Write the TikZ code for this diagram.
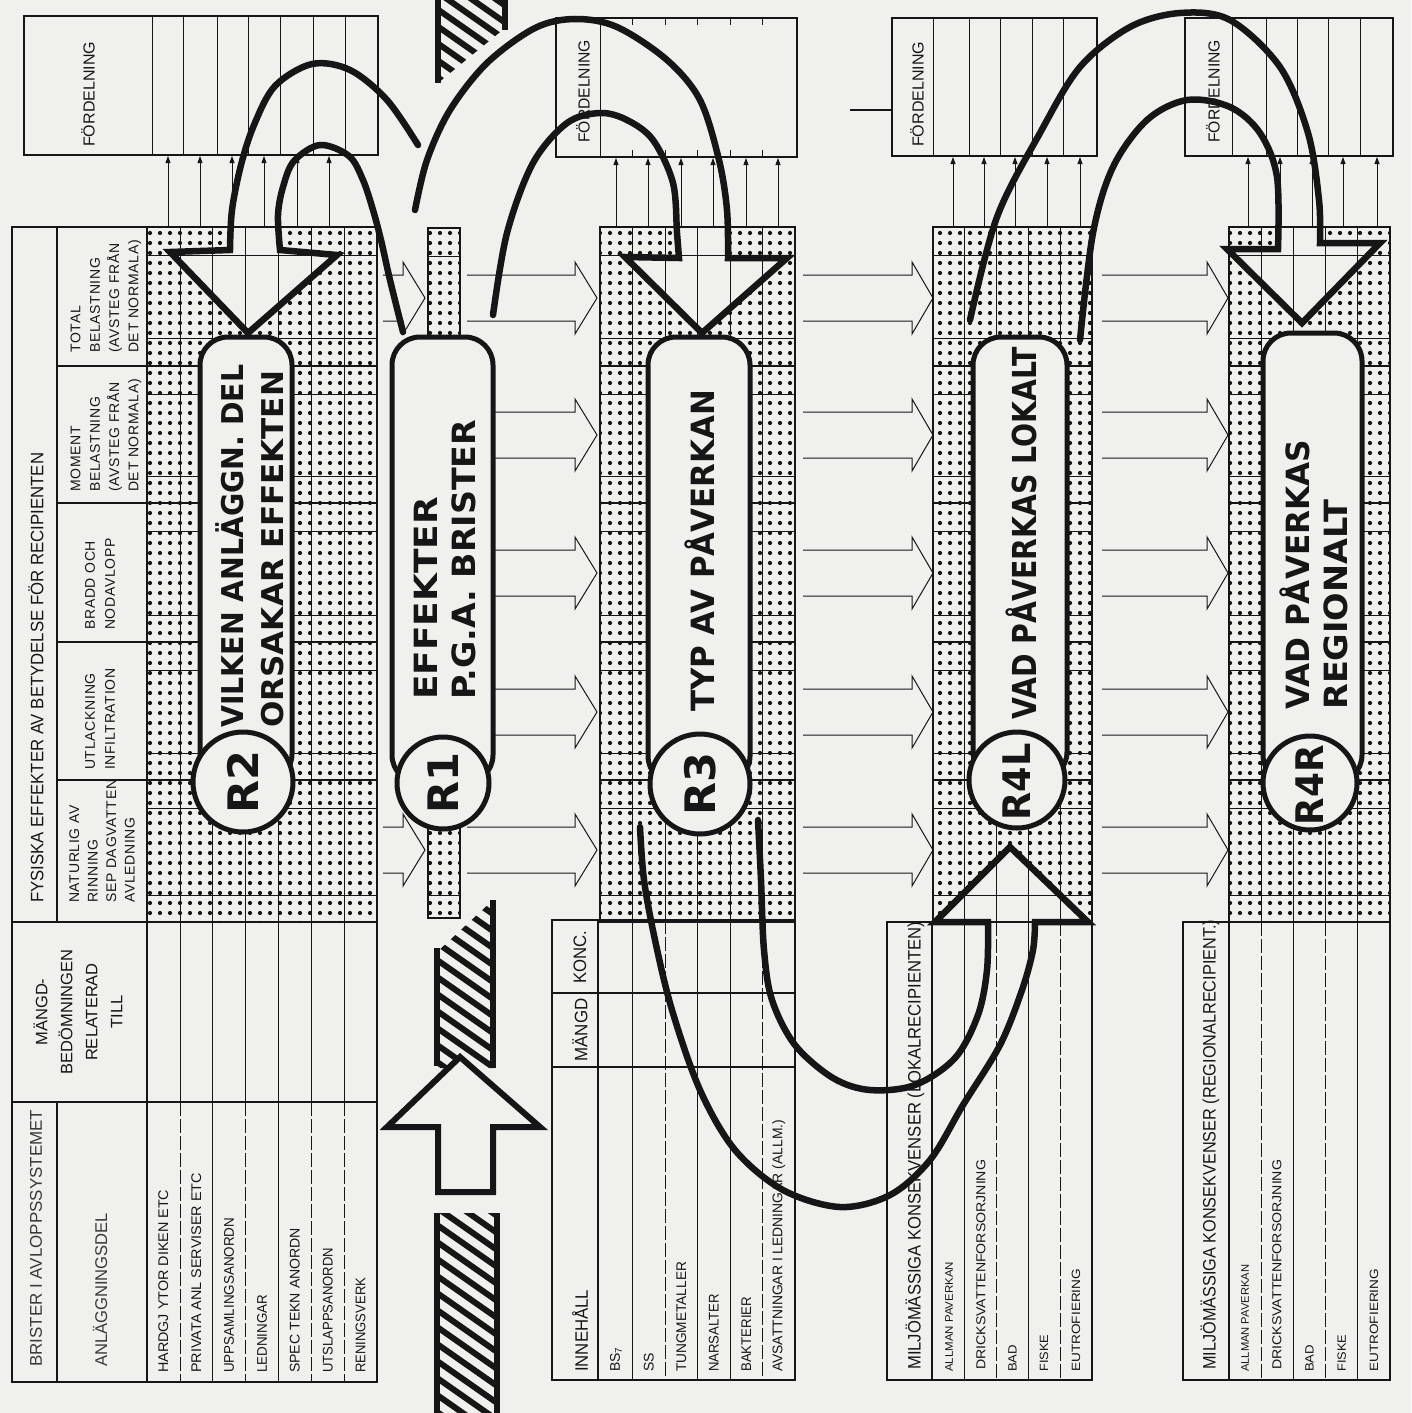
\documentclass[tikz,border=0pt]{standalone}
\usepackage{fontspec}
\usepackage{graphicx}
\setmainfont{Liberation Sans}
\newfontfamily\labfont{Liberation Sans}[LetterSpace=5]
\newfontfamily\handfont{DejaVu Sans}
\usetikzlibrary{patterns.meta,arrows.meta}
\definecolor{paper}{RGB}{240,240,237}
\definecolor{ink}{RGB}{22,22,22}
\newcommand\fitw[2]{\resizebox{#1}{\height}{#2}}
\newcommand\harr[4]{\draw[harrow] (#1,#4-23) -- (#2,#4-23) -- (#2,#4-36) -- (#3,#4) -- (#2,#4+36) -- (#2,#4+23) -- (#1,#4+23);}
\newcommand\gridlines[3]{%
  \foreach \cx in {#3} \draw[thinl] (\cx,227) -- (\cx,922);
  \foreach \hy in {255,338,394,476,531,615,670,753,808,895} \draw[thinl] (#1,\hy) -- (#2,\hy);
  \foreach \hy in {366,503,642,780} \draw[thkl] (#1,\hy) -- (#2,\hy);
  \draw[thkl] (#1,227) rectangle (#2,922);}
\begin{document}
\begin{tikzpicture}[x=1pt,y=-1pt,
  lbl/.style={rotate=90,anchor=west,inner sep=0pt,text=ink},
  thinl/.style={line width=0.7pt,draw=ink},
  thkl/.style={line width=1.5pt,draw=ink},
  bigline/.style={line width=6.5pt,draw=ink,line join=miter,miter limit=4,line cap=round},
  harrow/.style={line width=1pt,draw=ink,line join=miter},
  dotfill/.style={pattern={Dots[distance=10pt,radius=2.1pt]},pattern color=ink},
  callbox/.style={fill=paper,draw=ink,line width=5pt,rounded corners=28pt},
  callcirc/.style={fill=paper,draw=ink,line width=5pt},
  hatchedge/.style={line width=6pt,draw=ink},
  smallarr/.style={line width=0.8pt,draw=ink,-{Triangle[length=7pt,width=5pt]}},
  hand/.style={rotate=90,inner sep=0pt,text=ink}
]
\fill[paper] (0,0) rectangle (1411,1413);
\path[use as bounding box] (0,0) rectangle (1411,1413);

% ---------- dotted grids ----------
\fill[dotfill] (147,227) rectangle (377,922);
\fill[dotfill] (428,228) rectangle (460,918);
\fill[dotfill] (600,228) rectangle (795,922);
\fill[dotfill] (933,227) rectangle (1092,922);
\fill[dotfill] (1229,227) rectangle (1390,922);
% arrow interiors (unshaded)
\fill[paper] (230,227) -- (230,250) -- (170,252) -- (248,333) -- (337,255) -- (280,250) -- (280,227) -- cycle;
\fill[paper] (679,228) -- (679,258) -- (625,257) -- (702,333) -- (787,258) -- (728,258) -- (728,228) -- cycle;
\fill[paper] (1278,227) -- (1278,249) -- (1227,249) -- (1302,323) -- (1380,243) -- (1320,243) -- (1320,227) -- cycle;
\fill[paper] (935,922) -- (1010,847) -- (1088,922) -- cycle;

% ---------- grid lines ----------
\gridlines{147}{377}{179.9,212.7,245.6,278.4,311.3,344.1}
\gridlines{600}{795}{632.5,665,697.5,730,762.5}
\gridlines{933}{1092}{964.8,996.6,1028.4,1060.2}
\gridlines{1229}{1390}{1261.2,1293.4,1325.6,1357.8}
\draw[thkl] (428,228) rectangle (460,918);
\draw[thinl] (428,256) -- (460,256) (428,895) -- (460,895);

% ---------- panel 1 table ----------
\draw[thkl] (12,227) rectangle (377,1382);
\draw[thkl] (57,227) -- (57,922) (57,1102) -- (57,1382) (147,227) -- (147,1382);
\draw[thkl] (12,922) -- (377,922) (12,1102) -- (377,1102);
\foreach \hy in {366,503,642,780} \draw[thkl] (57,\hy) -- (147,\hy);
\foreach \cx in {179.9,212.7,245.6,278.4,311.3,344.1} \draw[thinl] (\cx,922) -- (\cx,1102);
\foreach \cx in {212.7,278.4} \draw[thinl] (\cx,1102) -- (\cx,1382);
\foreach \cx in {179.9,245.6,311.3,344.1} \draw[thinl,dash pattern=on 14pt off 3pt] (\cx,1102) -- (\cx,1382);

\node[lbl,font=\fontsize{18}{18}\selectfont] (fys) at (36,903) {\fitw{450pt}{FYSISKA EFFEKTER AV BETYDELSE FÖR RECIPIENTEN}};
\node[lbl,align=left,font=\labfont\fontsize{14}{19.3}\selectfont] (h1) at (106,353) {TOTAL\\BELASTNING\\(AVSTEG FRÅN\\DET NORMALA)};
\node[lbl,align=left,font=\labfont\fontsize{14}{19.3}\selectfont] (h2) at (106,492) {MOMENT\\BELASTNING\\(AVSTEG FRÅN\\DET NORMALA)};
\node[lbl,align=left,font=\labfont\fontsize{14}{20}\selectfont] (h3) at (100,630) {BRADD OCH\\NODAVLOPP};
\node[lbl,align=left,font=\labfont\fontsize{14}{20}\selectfont] (h4) at (100,770) {UTLACKNING\\INFILTRATION};
\node[lbl,align=left,font=\labfont\fontsize{14}{18.5}\selectfont] (h5) at (102,903) {NATURLIG AV\\RINNING\\SEP DAGVATTEN\\AVLEDNING};
\node[rotate=90,inner sep=0pt,align=center,text=ink,font=\fontsize{16.5}{25}\selectfont] (mb) at (78,1012) {MÄNGD-\\BEDÖMNINGEN\\RELATERAD\\TILL};
\node[lbl,font=\fontsize{17}{17}\selectfont,text=ink!85] (bri) at (36,1367) {\fitw{257pt}{BRISTER I AVLOPPSSYSTEMET}};
\node[lbl,font=\fontsize{17}{17}\selectfont,text=ink!85] (anl) at (100,1367) {\fitw{154pt}{ANLÄGGNINGSDEL}};
\node[lbl,font=\fontsize{14}{14}\selectfont] (r1a) at (163.4,1373) {\fitw{183pt}{HARDGJ YTOR DIKEN ETC}};
\node[lbl,font=\fontsize{14}{14}\selectfont] (r1b) at (196.3,1373) {\fitw{200pt}{PRIVATA ANL SERVISER ETC}};
\node[lbl,font=\fontsize{14}{14}\selectfont] (r1c) at (229.1,1373) {\fitw{155pt}{UPPSAMLINGSANORDN}};
\node[lbl,font=\fontsize{14}{14}\selectfont] (r1d) at (262,1373) {\fitw{78pt}{LEDNINGAR}};
\node[lbl,font=\fontsize{14}{14}\selectfont] (r1e) at (294.9,1373) {\fitw{145pt}{SPEC TEKN ANORDN}};
\node[lbl,font=\fontsize{14}{14}\selectfont] (r1f) at (327.7,1373) {\fitw{125pt}{UTSLAPPSANORDN}};
\node[lbl,font=\fontsize{14}{14}\selectfont] (r1g) at (360.6,1373) {\fitw{95pt}{RENINGSVERK}};

% ---------- panel 3 table ----------
\draw[thkl] (552,920) rectangle (795,1380);
\draw[thkl] (598,920) -- (598,1380) (552,993) -- (795,993) (552,1067) -- (795,1067);
\foreach \cx in {632.5,697.5,730} \draw[thinl] (\cx,920) -- (\cx,1380);
\foreach \cx in {665,762.5} \draw[thinl,dash pattern=on 14pt off 3pt] (\cx,920) -- (\cx,1380);
\node[lbl,font=\fontsize{18}{18}\selectfont] (inn) at (580,1372) {\fitw{82pt}{INNEHÅLL}};
\node[hand,font=\fontsize{18}{18}\selectfont] (mgd) at (580,1030) {\fitw{63pt}{MÄNGD}};
\node[hand,font=\fontsize{18}{18}\selectfont] (konc) at (580,957) {\fitw{53pt}{KONC.}};
\node[lbl,font=\fontsize{14}{14}\selectfont] (r3a) at (616,1372) {BS\textsubscript{7}};
\node[lbl,font=\fontsize{14}{14}\selectfont] (r3b) at (648.7,1372) {SS};
\node[lbl,font=\fontsize{14}{14}\selectfont] (r3c) at (681.2,1372) {\fitw{110pt}{TUNGMETALLER}};
\node[lbl,font=\fontsize{14}{14}\selectfont] (r3d) at (713.7,1372) {\fitw{78pt}{NARSALTER}};
\node[lbl,font=\fontsize{14}{14}\selectfont] (r3e) at (746.2,1372) {\fitw{75pt}{BAKTERIER}};
\node[lbl,font=\fontsize{14}{14}\selectfont] (r3f) at (778.7,1372) {\fitw{252pt}{AVSATTNINGAR I LEDNINGAR (ALLM.)}};

% ---------- panel 4 table ----------
\draw[thkl] (887,922) rectangle (1092,1380);
\draw[thkl] (932,922) -- (932,1380);
\foreach \cx in {964.8,1028.4} \draw[thinl] (\cx,922) -- (\cx,1380);
\foreach \cx in {996.6,1060.2} \draw[thinl,dash pattern=on 14pt off 3pt] (\cx,922) -- (\cx,1380);
\node[lbl,font=\fontsize{18}{18}\selectfont] (m4) at (915,1370) {\fitw{448pt}{MILJÖMÄSSIGA KONSEKVENSER (LOKALRECIPIENTEN)}};
\node[lbl,font=\fontsize{11}{11}\selectfont] (r4a) at (949,1372) {\fitw{110pt}{ALLMAN PAVERKAN}};
\node[lbl,font=\fontsize{13}{13}\selectfont] (r4b) at (981,1370) {\fitw{210pt}{DRICKSVATTENFORSORJNING}};
\node[lbl,font=\fontsize{12}{12}\selectfont] (r4c) at (1012.5,1372) {\fitw{27pt}{BAD}};
\node[lbl,font=\fontsize{12}{12}\selectfont] (r4d) at (1044,1372) {\fitw{37pt}{FISKE}};
\node[lbl,font=\fontsize{12}{12}\selectfont] (r4e) at (1076,1372) {\fitw{103pt}{EUTROFIERING}};

% ---------- panel 5 table ----------
\draw[thkl] (1183,922) rectangle (1390,1380);
\draw[thkl] (1229,922) -- (1229,1380);
\foreach \cx in {1293.4,1357.8} \draw[thinl] (\cx,922) -- (\cx,1380);
\foreach \cx in {1261.2,1325.6} \draw[thinl,dash pattern=on 14pt off 3pt] (\cx,922) -- (\cx,1380);
\node[lbl,font=\fontsize{18}{18}\selectfont] (m5) at (1210,1370) {\fitw{450pt}{MILJÖMÄSSIGA KONSEKVENSER (REGIONALRECIPIENT.)}};
\node[lbl,font=\fontsize{11}{11}\selectfont] (r5a) at (1245,1372) {\fitw{107pt}{ALLMAN PAVERKAN}};
\node[lbl,font=\fontsize{13}{13}\selectfont] (r5b) at (1277,1370) {\fitw{210pt}{DRICKSVATTENFORSORJNING}};
\node[lbl,font=\fontsize{12}{12}\selectfont] (r5c) at (1309.5,1372) {\fitw{27pt}{BAD}};
\node[lbl,font=\fontsize{12}{12}\selectfont] (r5d) at (1341.7,1372) {\fitw{37pt}{FISKE}};
\node[lbl,font=\fontsize{12}{12}\selectfont] (r5e) at (1374,1372) {\fitw{103pt}{EUTROFIERING}};

% ---------- FÖRDELNING boxes ----------
\draw[thkl] (24,16) rectangle (378,155);
\foreach \cx in {152,183,217,248,280,313,345} \draw[thinl] (\cx,16) -- (\cx,155);
\node[lbl,font=\fontsize{16}{16}\selectfont] (f1) at (88,147) {\fitw{105pt}{FÖRDELNING}};
\foreach \ax in {168,200,232,264,297,329} \draw[smallarr] (\ax,227) -- (\ax,156);

\draw[thkl] (556,18) rectangle (797,157);
\draw[thinl] (600,18) -- (600,157);
\foreach \cx in {632.5,665,697.5,730,762.5} \draw[thinl] (\cx,18) -- (\cx,25) (\cx,150) -- (\cx,157);
\node[lbl,font=\fontsize{16}{16}\selectfont] (f3) at (583,143) {\fitw{103pt}{FÖRDELNING}};
\foreach \ax in {616,648,681,713,746,778} \draw[smallarr] (\ax,228) -- (\ax,158);

\draw[thkl] (892,18) rectangle (1097,156);
\draw[thinl] (933,18) -- (933,156);
\foreach \cx in {969,1000,1032,1063} \draw[thinl] (\cx,18) -- (\cx,156);
\node[lbl,font=\fontsize{16}{16}\selectfont] (f4) at (917,147) {\fitw{105pt}{FÖRDELNING}};
\foreach \ax in {953,984,1015,1047,1080} \draw[smallarr] (\ax,227) -- (\ax,157);
\coordinate (tk1) at (850,110); \coordinate (tk2) at (892,110);
\draw[line width=1.2pt,draw=ink] (tk1) -- (tk2);

\draw[thkl] (1185,18) rectangle (1393,156);
\draw[thinl] (1232,18) -- (1232,156);
\foreach \cx in {1266,1297,1328,1360} \draw[thinl] (\cx,18) -- (\cx,156);
\node[lbl,font=\fontsize{16}{16}\selectfont] (f5) at (1213,143) {\fitw{103pt}{FÖRDELNING}};
\foreach \ax in {1248,1280,1312,1343,1377} \draw[smallarr] (\ax,227) -- (\ax,157);

% ---------- hollow block arrows ----------
\foreach \c in {298,850} {\harr{383}{403}{425}{\c}}
\foreach \c in {298,435,573,712,850} {\harr{467}{575}{597}{\c}}
\foreach \c in {298,435,573,712,850} {\harr{803}{912}{933}{\c}}
\foreach \c in {298,435,573,712,850} {\harr{1102}{1207}{1228}{\c}}

% ---------- hatched bars ----------
\begin{scope}
\clip (438,0) -- (438,83) -- (505,28) -- (505,0) -- cycle;
\foreach \k in {-4,...,8} \draw[line width=6pt,draw=ink] (420,\k*17-20) -- (520,\k*17+50);
\end{scope}
\draw[hatchedge] (438,0) -- (438,83) (505,0) -- (505,30);
\begin{scope}
\clip (437,952) -- (493,900) -- (493,1068) -- (437,1068) -- cycle;
\foreach \k in {49,...,64} \draw[line width=6pt,draw=ink] (420,\k*17+30) -- (520,\k*17+100);
\end{scope}
\draw[hatchedge] (437,948) -- (437,1066) (493,900) -- (493,1068);
\begin{scope}
\clip (437,1213) -- (497,1213) -- (497,1413) -- (437,1413) -- cycle;
\foreach \k in {66,...,85} \draw[line width=6pt,draw=ink] (420,\k*17+40) -- (520,\k*17+110);
\end{scope}
\draw[hatchedge] (437,1213) -- (437,1413) (497,1213) -- (497,1413);
\filldraw[fill=paper,draw=ink,line width=6pt,line join=miter] (460,1057) -- (540,1127) -- (493,1127) -- (493,1192) -- (438,1192) -- (438,1127) -- (387,1127) -- cycle;

% ---------- callouts ----------
\draw[callbox] (200,337) rectangle (292,782);
\draw[callcirc] (243,782) circle[radius=50pt];
\draw[callbox] (392,337) rectangle (493,783);
\draw[callcirc] (443,783) circle[radius=46pt];
\draw[callbox] (648,337) rectangle (750,784);
\draw[callcirc] (700,784) circle[radius=50pt];
\draw[callbox] (973,337) rectangle (1067,780);
\draw[callcirc] (1017,780) circle[radius=48pt];
\draw[callbox] (1263,333) rectangle (1362,783);
\draw[callcirc] (1310,783) circle[radius=47pt];

\node[lbl,align=left,font=\handfont\bfseries\fontsize{30}{40}\selectfont] (t2) at (250,728) {\fitw{363pt}{VILKEN ANLÄGGN. DEL}\\\fitw{357pt}{ORSAKAR EFFEKTEN}};
\node[lbl,align=left,font=\handfont\bfseries\fontsize{32}{38}\selectfont] (t1) at (445,700) {\fitw{203pt}{EFFEKTER}\\\fitw{280pt}{P.G.A. BRISTER}};
\node[lbl,font=\handfont\bfseries\fontsize{32}{32}\selectfont] (t3) at (700,712) {\fitw{322pt}{TYP AV PÅVERKAN}};
\node[lbl,font=\handfont\bfseries\fontsize{33}{33}\selectfont] (t4l) at (1021,720) {\fitw{373pt}{VAD PÅVERKAS LOKALT}};
\node[lbl,align=left,font=\handfont\bfseries\fontsize{32}{38}\selectfont] (t4r) at (1314,710) {\fitw{270pt}{VAD PÅVERKAS}\\\fitw{210pt}{REGIONALT}};
\node[hand,font=\handfont\bfseries\fontsize{42}{42}\selectfont] (c2) at (243,782) {\fitw{63pt}{R2}};
\node[hand,font=\handfont\bfseries\fontsize{42}{42}\selectfont] (c1) at (443,783) {\fitw{61pt}{R1}};
\node[hand,font=\handfont\bfseries\fontsize{42}{42}\selectfont] (c3) at (700,784) {\fitw{63pt}{R3}};
\node[hand,font=\handfont\bfseries\fontsize{38}{38}\selectfont] (c4l) at (1017,782) {\fitw{77pt}{R4L}};
\node[hand,font=\handfont\bfseries\fontsize{38}{38}\selectfont] (c4r) at (1310,785) {\fitw{80pt}{R4R}};

% ---------- big curved arrows ----------
\draw[bigline] plot[smooth,tension=0.55] coordinates {(418,145) (387,100) (350,70) (312,64) (275,86) (254,125) (241,165) (232,210) (230,250)} -- (170,252) -- (248,333) -- (337,255) -- plot[smooth,tension=0.55] coordinates {(280,250) (278,215) (283,187) (294,161) (320,145) (349,156) (363,180) (373,210) (381,240) (390,280) (403,332)};
\draw[bigline] plot[smooth,tension=0.55] coordinates {(415,210) (427,160) (450,110) (487,63) (535,28) (575,19) (617,27) (667,60) (700,100) (719,160) (727,210) (728,258)} -- (787,258) -- (702,333) -- (625,257) -- plot[smooth,tension=0.55] coordinates {(679,258) (677,233) (673,183) (653,140) (627,120) (600,113) (567,123) (533,163) (507,233) (493,315)};
\draw[bigline] plot[smooth,tension=0.55] coordinates {(970,320) (997,217) (1040,133) (1080,67) (1130,27) (1180,13) (1230,20) (1280,67) (1308,133) (1319,200) (1320,243)} -- (1380,243) -- (1302,323) -- (1227,249) -- plot[smooth,tension=0.55] coordinates {(1278,249) (1277,177) (1260,133) (1230,107) (1187,100) (1147,120) (1113,167) (1093,233) (1080,340)};
\draw[bigline] plot[smooth,tension=0.55] coordinates {(640,827) (644,880) (655,940) (672,1010) (700,1090) (735,1150) (783,1190) (840,1207) (890,1195) (930,1160) (963,1105) (1000,1045) (1022,990) (1033,950) (1035,922)} -- (1088,922) -- (1010,847) -- (935,922) -- plot[smooth,tension=0.55] coordinates {(988,922) (987,970) (978,1015) (955,1058) (915,1085) (870,1090) (833,1078) (795,1045) (772,1000) (764,950) (761,880) (758,820)};
\end{tikzpicture}
\end{document}
